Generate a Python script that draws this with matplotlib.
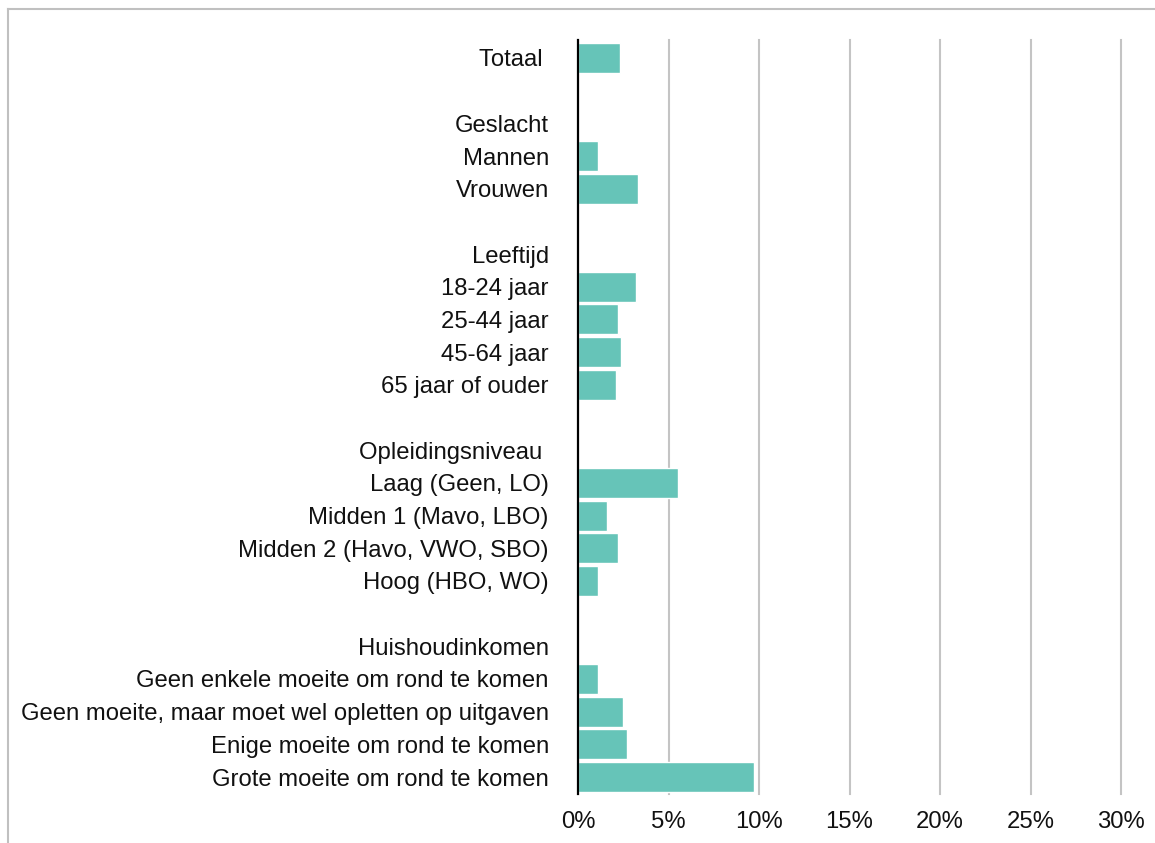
import matplotlib.pyplot as plt
from matplotlib.lines import Line2D

labels = ['Totaal ', '',
          'Geslacht', 'Mannen', 'Vrouwen', '',
          'Leeftijd', '18-24 jaar', '25-44 jaar', '45-64 jaar', '65 jaar of ouder', '',
          'Opleidingsniveau ', 'Laag (Geen, LO)', 'Midden 1 (Mavo, LBO)',
          'Midden 2 (Havo, VWO, SBO)', 'Hoog (HBO, WO)', '',
          'Huishoudinkomen', 'Geen enkele moeite om rond te komen',
          'Geen moeite, maar moet wel opletten op uitgaven',
          'Enige moeite om rond te komen', 'Grote moeite om rond te komen']
values = [2.3, 0,
          0, 1.1, 3.3, 0,
          0, 3.2, 2.2, 2.4, 2.1, 0,
          0, 5.5, 1.6, 2.2, 1.1, 0,
          0, 1.1, 2.5, 2.7, 9.7]
xticks = [0, 5, 10, 15, 20, 25, 30]

plt.rcParams['font.family'] = ['Liberation Sans', 'DejaVu Sans']

fig = plt.figure(figsize=(11.55, 8.43), dpi=100)
ax = fig.add_axes([578 / 1155, 1 - 794 / 843, (1121 - 578) / 1155, (794 - 40) / 843])

pos = list(range(len(labels)))
ax.barh(pos, values, height=0.92, color='#66c4b8', edgecolor='white', linewidth=1, zorder=3)

ax.set_xlim(0, 30)
ax.set_ylim(len(labels) - 0.48, -0.55)
ax.set_yticks(pos)
ax.set_yticklabels(labels, fontsize=17.2, color='#111111')
ax.set_xticks(xticks)
ax.set_xticklabels([f'{t}%' for t in xticks], fontsize=17.2, color='#111111')
ax.tick_params(axis='y', length=0, pad=21)
ax.tick_params(axis='x', length=0, pad=12)

for t in xticks[1:]:
    ax.axvline(t, color='#c4c4c4', linewidth=1.5, zorder=1, clip_on=False)

for s in ['top', 'right', 'bottom']:
    ax.spines[s].set_visible(False)
ax.spines['left'].set_color('black')
ax.spines['left'].set_linewidth(1.6)
ax.spines['left'].set_zorder(4)

# grey frame round the picture (top and left edge)
fig.add_artist(Line2D([7.5 / 1155, 1], [1 - 8.5 / 843, 1 - 8.5 / 843], color='#c0c0c0', linewidth=1.5))
fig.add_artist(Line2D([7.5 / 1155, 7.5 / 1155], [0, 1 - 8.5 / 843], color='#c0c0c0', linewidth=1.5))

fig.savefig('out.png', dpi=100)
